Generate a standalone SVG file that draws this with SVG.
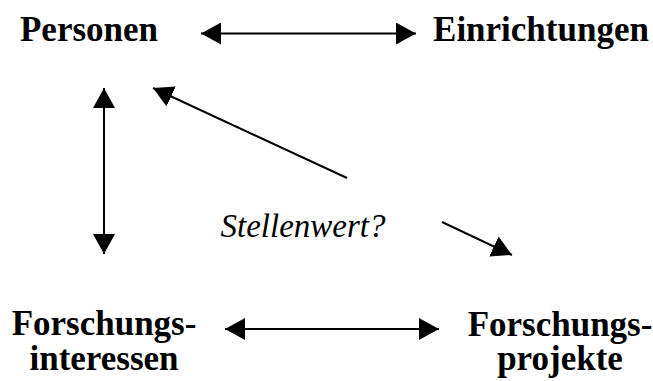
<svg xmlns="http://www.w3.org/2000/svg" width="653" height="381" viewBox="0 0 653 381">
<style>
.n{font-family:"Liberation Serif","Times New Roman",serif;font-weight:bold;font-size:35px;fill:#000;text-anchor:middle}
.l{font-family:"Liberation Serif","Times New Roman",serif;font-style:italic;font-size:33px;fill:#000;text-anchor:middle}
.c{stroke:#000;stroke-width:2;fill:none}
</style>
<defs>
<marker id="ah" markerUnits="userSpaceOnUse" markerWidth="20" markerHeight="22" refX="20" refY="11" orient="auto-start-reverse" viewBox="0 0 20 22">
<path d="M0,0 L20,11 L0,22 z" fill="#000"/>
</marker>
</defs>
<rect width="653" height="381" fill="#fff"/>
<g id="personen"><text class="n" x="89" y="41">Personen</text></g>
<g id="einrichtungen"><text class="n" x="541" y="41">Einrichtungen</text></g>
<g id="forschungsinteressen"><text class="n" x="104" y="335">Forschungs-</text><text class="n" x="104" y="370">interessen</text></g>
<g id="forschungsprojekte"><text class="n" x="560" y="336">Forschungs-</text><text class="n" x="560" y="370">projekte</text></g>
<g id="stellenwert"><text class="l" x="303" y="237">Stellenwert?</text></g>
<g id="connectors">
<line class="c" x1="201" y1="33.5" x2="416" y2="33.5" marker-start="url(#ah)" marker-end="url(#ah)"/>
<line class="c" x1="225" y1="329" x2="439" y2="329" marker-start="url(#ah)" marker-end="url(#ah)"/>
<line class="c" x1="104" y1="88" x2="104" y2="254" marker-start="url(#ah)" marker-end="url(#ah)"/>
<line class="c" x1="347" y1="178" x2="153" y2="88" marker-end="url(#ah)"/>
<line class="c" x1="442" y1="222" x2="512" y2="255" marker-end="url(#ah)"/>
</g>
</svg>
